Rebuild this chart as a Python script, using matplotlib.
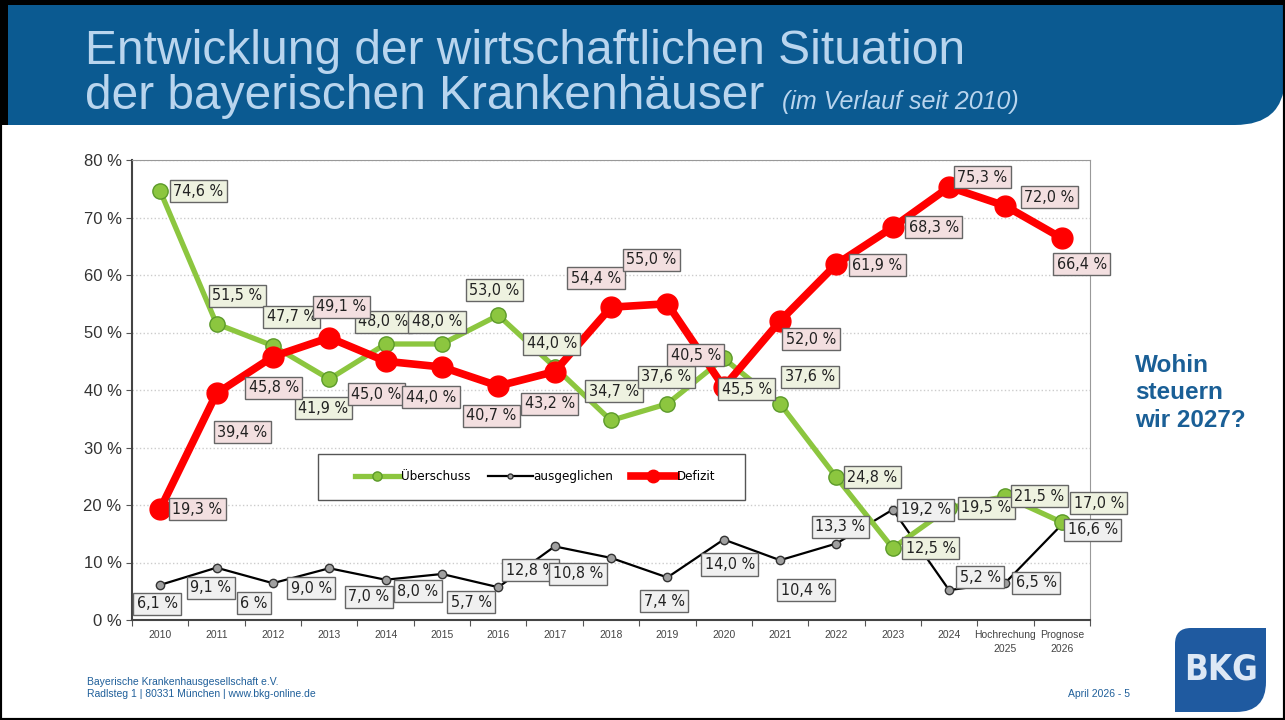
import numpy as np
import matplotlib
matplotlib.use('Agg')
import matplotlib.pyplot as plt
from matplotlib.path import Path
from matplotlib.patches import PathPatch, Rectangle

# ==========================================
# Data
# ==========================================
categories = ['2010', '2011', '2012', '2013', '2014', '2015', '2016', '2017', '2018',
              '2019', '2020', '2021', '2022', '2023', '2024', 'Hochrechung\n2025', 'Prognose\n2026']

ueberschuss = [74.6, 51.5, 47.7, 41.9, 48.0, 48.0, 53.0, 44.0, 34.7,
               37.6, 45.5, 37.6, 24.8, 12.5, 19.5, 21.5, 17.0]
ausgeglichen = [6.1, 9.1, 6.4, 9.0, 7.0, 8.0, 5.7, 12.8, 10.8,
                7.4, 14.0, 10.4, 13.3, 19.2, 5.2, 6.5, 16.6]
defizit = [19.3, 39.4, 45.8, 49.1, 45.0, 44.0, 40.7, 43.2, 54.4,
           55.0, 40.5, 52.0, 61.9, 68.3, 75.3, 72.0, 66.4]

# label texts as printed on the slide
ueberschuss_lbl = ['74,6 %', '51,5 %', '47,7 %', '41,9 %', '48,0 %', '48,0 %', '53,0 %', '44,0 %', '34,7 %',
                   '37,6 %', '45,5 %', '37,6 %', '24,8 %', '12,5 %', '19,5 %', '21,5 %', '17,0 %']
ausgeglichen_lbl = ['6,1 %', '9,1 %', '6 %', '9,0 %', '7,0 %', '8,0 %', '5,7 %', '12,8 %', '10,8 %',
                    '7,4 %', '14,0 %', '10,4 %', '13,3 %', '19,2 %', '5,2 %', '6,5 %', '16,6 %']
defizit_lbl = ['19,3 %', '39,4 %', '45,8 %', '49,1 %', '45,0 %', '44,0 %', '40,7 %', '43,2 %', '54,4 %',
               '55,0 %', '40,5 %', '52,0 %', '61,9 %', '68,3 %', '75,3 %', '72,0 %', '66,4 %']

# label offsets from the point, in pixels (dx right, dy down)
green_off = [(38, 0), (21, -28), (19, -29), (-6, 29), (-2, -22), (-5, -22), (-4, -25), (-3, -23), (3, -29),
             (-1, -27), (23, 31), (30, -27), (36, 0), (38, 0), (37, 0), (34, 0), (37, -19)]
red_off = [(37, 0), (26, 39), (1, 31), (12, -31), (-9, 33), (-11, 30), (-7, 30), (-5, 32), (-15, -29),
           (-16, -44), (-28, -32), (31, 18), (41, 1), (41, 0), (33, -10), (44, -9), (20, 26)]
black_off = [(-3, 19), (-6, 20), (-19, 20), (-18, 20), (-17, 17), (-24, 17), (-27, 15), (-24, 24), (-33, 16),
             (-3, 24), (6, 25), (26, 30), (4, -17), (33, 0), (31, -13), (31, 0), (31, 5)]

# ==========================================
# Style
# ==========================================
plt.rcParams['font.family'] = ['Liberation Sans', 'DejaVu Sans']

BLUE = '#0b5a91'
GREEN = '#8cc63f'
GREEN_EDGE = '#5c9a2a'
RED = '#ff0000'
NARROW = dict(family=['DejaVu Sans'], fontstretch='condensed')

fig = plt.figure(figsize=(12.85, 7.2), dpi=100)
W, H = 1285, 720


def fx(px):
    return px / W


def fy(py):
    return 1 - py / H


# header band with rounded bottom-right corner
verts = [(fx(0), fy(0)), (fx(1285), fy(0)), (fx(1285), fy(80)),
         (fx(1283), fy(125)), (fx(1235), fy(125)), (fx(8), fy(125)), (fx(8), fy(4)),
         (fx(0), fy(0))]
codes = [Path.MOVETO, Path.LINETO, Path.LINETO, Path.CURVE3, Path.CURVE3,
         Path.LINETO, Path.LINETO, Path.CLOSEPOLY]
fig.patches.append(PathPatch(Path(verts, codes), transform=fig.transFigure,
                             facecolor=BLUE, edgecolor='none', zorder=0))
fig.patches.append(Rectangle((0, fy(125)), fx(8), 1 - fy(125), transform=fig.transFigure,
                             facecolor='black', edgecolor='none', zorder=1))
fig.patches.append(Rectangle((0, fy(5)), 1, 1 - fy(5), transform=fig.transFigure,
                             facecolor='black', edgecolor='none', zorder=1))

fig.text(fx(85), fy(64), 'Entwicklung der wirtschaftlichen Situation', fontsize=34.5,
         color='#b9d5ee', ha='left', va='baseline')
fig.text(fx(85), fy(109), 'der bayerischen Krankenhäuser', fontsize=34.5,
         color='#b9d5ee', ha='left', va='baseline')
fig.text(fx(782), fy(109), '(im Verlauf seit 2010)', fontsize=18, style='italic',
         color='#b9d5ee', ha='left', va='baseline')

# slide frame
fig.patches.append(Rectangle((0, 0), 1, 1, transform=fig.transFigure, fill=False,
                             edgecolor='black', linewidth=3, zorder=5))

# ==========================================
# Chart
# ==========================================
ax = fig.add_axes([fx(132), fy(620), fx(1090) - fx(132), fy(160) - fy(620)])
x = np.arange(len(categories))

ax.plot(x, ausgeglichen, color='black', lw=1.6, marker='o', ms=6,
        mfc='#a0a0a0', mec='#333333', mew=1, zorder=3, label='ausgeglichen')
ax.plot(x, ueberschuss, color=GREEN, lw=3.8, marker='o', ms=11,
        mfc=GREEN, mec=GREEN_EDGE, mew=1, zorder=4, label='Überschuss')
ax.plot(x, defizit, color=RED, lw=5.5, marker='o', ms=15,
        mfc=RED, mec=RED, zorder=5, label='Defizit')


def add_labels(vals, lbls, offs, fc):
    for i, (v, t, (dx, dy)) in enumerate(zip(vals, lbls, offs)):
        ax.annotate(t, (x[i], v), xytext=(dx, -dy), textcoords='offset pixels',
                    ha='center', va='center', fontsize=11.5, color='#222222', zorder=10,
                    bbox=dict(boxstyle='square,pad=0.22', fc=fc, ec='#666666', lw=1), **NARROW)


add_labels(ausgeglichen, ausgeglichen_lbl, black_off, '#f0f0f0')
add_labels(ueberschuss, ueberschuss_lbl, green_off, '#eef2e0')
add_labels(defizit, defizit_lbl, red_off, '#f3dfe0')

ax.set_xlim(-0.5, len(categories) - 0.5)
ax.set_ylim(0, 80)
ax.set_yticks(np.arange(0, 81, 10))
ax.set_yticklabels([f'{v} %' for v in range(0, 81, 10)], fontsize=12, color='#333333')
ax.yaxis.grid(True, color='#cccccc', linestyle=':', linewidth=1)
ax.set_axisbelow(True)

# ticks between categories, labels centred
ax.set_xticks(np.arange(-0.5, len(categories), 1.0))
ax.set_xticklabels([])
ax.set_xticks(x, minor=True)
ax.set_xticklabels(categories, minor=True, fontsize=7.5, color='#444444', linespacing=1.5)
ax.tick_params(axis='x', which='major', direction='out', length=4, color='#555555')
ax.tick_params(axis='x', which='minor', length=0, pad=7)
ax.tick_params(axis='y', direction='out', length=4, color='#555555')

for side in ['top', 'right']:
    ax.spines[side].set_color('#999999')
for side in ['left', 'bottom']:
    ax.spines[side].set_color('#444444')
    ax.spines[side].set_linewidth(1.5)

# legend: own frame, entries spread inside it
ax.add_patch(Rectangle((0.1942, 0.2609), 0.4457, 0.1, transform=ax.transAxes,
                       facecolor='white', edgecolor='#555555', lw=1, zorder=7))
handles, labs = ax.get_legend_handles_labels()
order = [1, 0, 2]
leg = ax.legend([handles[k] for k in order], [labs[k] for k in order], ncol=3,
                loc='center', bbox_to_anchor=(0.2328, 0.2609, 0.3758, 0.1), mode='expand',
                prop={'family': 'DejaVu Sans', 'stretch': 'condensed', 'size': 9.5},
                frameon=False, handlelength=3.4, handletextpad=0.05,
                borderaxespad=0, borderpad=0, markerscale=0.6)
leg.set_zorder(8)

# ==========================================
# Side text and footer
# ==========================================
fig.text(fx(1135), fy(393), 'Wohin\nsteuern\nwir 2027?', fontsize=17.5, fontweight='bold',
         color='#1a5f96', ha='left', va='center', linespacing=1.25)

fig.text(fx(87), fy(682), 'Bayerische Krankenhausgesellschaft e.V.', fontsize=7.5,
         color='#1f5f9a', ha='left', va='center')
fig.text(fx(87), fy(694), 'Radlsteg 1 | 80331 München | www.bkg-online.de', fontsize=7.5,
         color='#1f5f9a', ha='left', va='center')
fig.text(fx(1130), fy(694), 'April 2026 - 5', fontsize=7.5,
         color='#1f5f9a', ha='right', va='center')

# BKG logo: leaf-like square, rounded top-left and bottom-right
lx0, lx1, ly0, ly1 = 1175, 1266, 628, 712
r1, r2 = 16, 30
logo_verts = [(lx0, ly0 + r1), (lx0, ly0), (lx0 + r1, ly0), (lx1, ly0), (lx1, ly1 - r2),
              (lx1, ly1), (lx1 - r2, ly1), (lx0, ly1), (lx0, ly0 + r1)]
logo_codes = [Path.MOVETO, Path.CURVE3, Path.CURVE3, Path.LINETO, Path.LINETO,
              Path.CURVE3, Path.CURVE3, Path.LINETO, Path.CLOSEPOLY]
fig.patches.append(PathPatch(Path([(fx(a), fy(b)) for a, b in logo_verts], logo_codes),
                             transform=fig.transFigure, facecolor='#1f5aa0',
                             edgecolor='none', zorder=1))
fig.text(fx(1221), fy(670), 'BKG', fontsize=25, fontweight='bold', color='#dde8f5',
         ha='center', va='center', zorder=2, **NARROW)

fig.savefig('out.png', dpi=100)
